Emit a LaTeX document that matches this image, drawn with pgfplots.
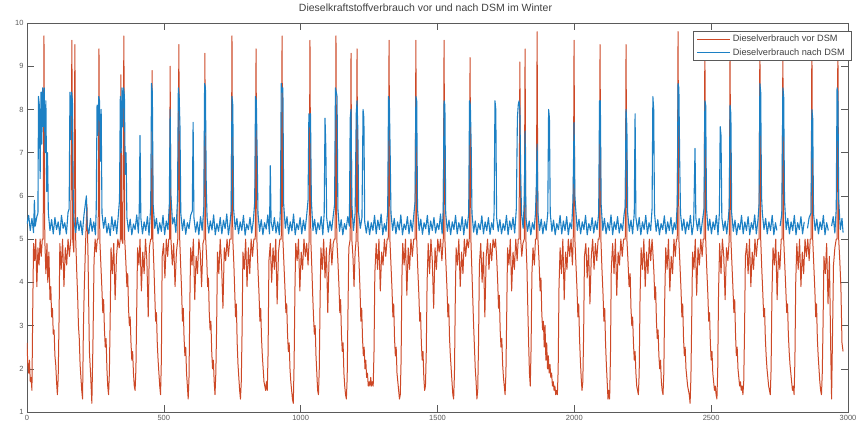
\documentclass[border=0pt]{standalone}
\usepackage{fontspec}
\setmainfont{Liberation Sans}
\usepackage{pgfplots}
\usepackage{pgfplotstable}
\pgfplotsset{compat=1.18}

\definecolor{vorcol}{RGB}{205,72,38}
\definecolor{nachcol}{RGB}{28,128,196}
\definecolor{axcol}{RGB}{90,90,90}

% Diesel consumption before DSM
\pgfplotstableread{
x y
0 2.6
3 2.1
6 1.9
9 2.2
12 1.7
15 1.8
18 1.5
21 3.4
24 4.9
28 4.5
32 5.0
36 3.9
40 4.8
44 4.4
48 5.0
52 4.6
56 5.0
59 5.0
62 9.7
65 5.0
69 4.2
73 4.9
76 4.0
80 4.7
84 3.6
87 3.9
90 3.2
93 3.4
96 2.8
99 2.9
102 2.3
105 2.1
108 1.7
111 1.4
114 1.8
117 3.1
120 4.9
125 4.3
130 5.0
135 3.9
140 4.8
145 4.4
150 5.0
155 4.6
160 5.0
164 9.6
167 5.0
171 4.7
175 9.5
178 5.0
182 4.2
185 3.7
188 3.0
191 2.7
194 2.1
197 1.8
200 1.5
203 1.3
206 2.9
209 3.8
214 4.9
219 5.8
223 4.6
228 2.4
233 1.8
237 1.2
241 2.6
245 4.5
249 5.0
253 4.7
257 5.0
260 5.0
263 9.4
266 5.0
270 4.4
274 3.8
277 3.3
280 3.6
283 2.9
286 2.5
289 2.7
292 2.0
295 1.6
298 1.4
301 1.9
304 3.2
307 4.8
312 4.2
317 4.9
322 3.6
327 4.6
332 5.0
337 4.8
341 5.0
343 8.8
346 5.0
350 4.9
354 9.7
357 5.0
361 4.5
365 3.9
368 4.2
371 3.4
374 3.0
377 3.2
380 2.6
383 2.2
386 2.4
389 1.9
392 1.6
395 1.5
398 2.0
401 3.4
404 4.8
409 4.4
413 5.0
418 3.8
423 4.7
428 4.2
433 5.0
438 4.5
443 3.2
447 4.8
452 5.0
455 5.0
457 8.9
460 5.0
464 4.3
467 3.7
470 3.1
473 3.3
476 2.6
479 2.2
482 1.9
485 1.6
488 1.4
491 2.2
494 4.6
499 4.9
504 4.1
509 5.0
514 4.6
518 5.0
521 5.0
523 9.0
526 5.0
531 4.4
536 4.9
541 3.9
546 4.7
551 5.0
555 9.5
558 5.0
562 4.3
565 3.8
568 3.1
571 3.4
574 2.7
577 2.3
580 2.5
583 1.9
586 1.6
589 1.3
592 1.8
595 3.5
598 4.8
603 4.4
608 5.0
613 3.6
618 4.6
623 4.2
628 5.0
633 4.7
638 3.9
643 4.9
647 5.0
650 9.3
653 5.0
657 4.5
660 3.9
663 4.1
666 3.3
669 2.9
672 3.1
675 2.4
678 2.0
681 2.2
684 1.7
687 1.4
690 1.9
693 3.0
696 4.7
701 4.2
706 5.0
711 4.4
716 3.4
721 4.8
726 4.5
731 5.0
736 4.6
741 5.0
746 5.0
749 9.7
752 5.0
756 4.4
759 3.8
762 3.2
765 3.5
768 2.6
771 2.1
774 1.8
777 1.5
780 1.3
783 1.7
786 2.9
789 4.7
794 4.3
799 5.0
804 3.9
809 4.8
814 4.2
819 5.0
824 4.6
829 5.0
834 5.0
837 9.4
840 5.0
844 4.3
848 3.7
851 3.1
854 3.4
857 2.7
860 2.3
863 2.0
866 1.7
869 1.6
872 1.5
875 1.7
878 1.5
881 2.4
884 4.5
889 4.9
894 4.0
899 4.8
904 4.3
909 5.0
914 3.5
919 4.7
924 5.0
929 5.0
932 9.7
935 5.0
939 4.4
943 3.8
946 3.3
949 3.5
952 2.8
955 2.4
958 2.6
961 2.0
964 1.7
967 1.5
970 1.3
973 1.2
976 2.1
979 3.8
982 4.9
987 4.5
992 5.0
997 3.8
1002 4.7
1007 4.3
1012 5.0
1017 4.6
1022 4.9
1027 4.4
1031 5.0
1034 9.6
1037 5.0
1041 4.3
1044 3.7
1047 3.2
1050 2.8
1053 3.0
1056 2.3
1059 1.9
1062 1.5
1065 1.4
1068 2.0
1071 3.6
1074 4.8
1079 4.3
1084 5.0
1089 4.1
1094 4.8
1099 3.3
1104 4.6
1109 5.0
1114 4.4
1119 4.9
1123 5.0
1126 5.0
1129 9.7
1132 5.0
1136 4.5
1140 3.9
1143 3.3
1146 3.6
1149 2.8
1152 2.4
1155 2.6
1158 1.9
1161 1.6
1164 1.4
1167 1.3
1170 1.8
1173 3.4
1176 4.8
1181 5.0
1184 9.3
1187 5.0
1191 4.6
1195 3.9
1199 4.7
1203 5.0
1206 9.4
1209 5.0
1213 4.5
1217 3.8
1220 3.1
1223 3.4
1226 2.7
1229 2.3
1232 2.5
1235 2.0
1238 2.2
1241 1.8
1244 1.9
1247 1.6
1250 1.7
1253 1.6
1256 1.8
1259 1.6
1262 1.7
1265 1.6
1268 2.4
1271 4.2
1276 4.9
1281 4.3
1286 5.0
1291 3.8
1296 4.7
1301 4.4
1306 5.0
1311 4.6
1316 5.0
1320 5.0
1323 9.6
1326 5.0
1330 4.4
1334 3.8
1337 3.2
1340 3.5
1343 2.7
1346 2.3
1349 2.5
1352 1.9
1355 1.7
1358 1.5
1361 1.3
1364 1.4
1367 2.2
1370 4.1
1373 4.9
1378 4.4
1383 5.0
1388 3.7
1393 4.8
1398 4.3
1403 5.0
1408 4.6
1413 5.0
1418 5.0
1421 9.6
1424 5.0
1428 4.3
1432 3.7
1435 3.1
1438 3.3
1441 2.6
1444 2.2
1447 2.4
1450 1.8
1453 1.5
1456 1.6
1459 2.4
1462 4.0
1466 4.9
1471 4.2
1476 5.0
1481 4.5
1486 3.4
1491 4.8
1496 4.3
1501 5.0
1506 4.7
1511 5.0
1516 4.5
1521 5.0
1524 9.6
1527 5.0
1531 4.4
1535 3.8
1538 3.2
1541 3.5
1544 2.7
1547 2.3
1550 2.0
1553 1.7
1556 1.4
1559 1.3
1562 1.9
1565 3.6
1568 4.8
1573 4.4
1578 5.0
1583 3.9
1588 4.7
1593 4.2
1598 5.0
1603 4.6
1608 5.0
1613 4.8
1616 5.0
1619 9.2
1622 5.0
1626 4.2
1629 3.6
1632 3.0
1635 2.5
1638 2.0
1641 1.7
1644 1.3
1647 1.5
1650 2.6
1653 4.4
1658 4.9
1663 4.0
1668 4.7
1673 3.2
1678 4.6
1683 5.0
1688 4.3
1693 4.9
1698 4.5
1703 5.0
1708 4.8
1712 5.0
1716 4.6
1720 4.0
1723 3.4
1726 3.7
1729 2.9
1732 2.5
1735 2.7
1738 2.1
1741 1.8
1744 1.6
1747 1.4
1750 1.9
1753 3.3
1756 4.8
1761 4.4
1766 5.0
1771 3.8
1776 4.7
1781 4.3
1786 5.0
1791 4.5
1795 5.0
1798 5.0
1801 9.1
1804 5.0
1808 4.6
1812 4.9
1817 5.0
1820 9.4
1823 5.0
1827 4.3
1830 3.4
1833 2.6
1836 1.9
1839 1.6
1842 2.5
1845 4.2
1849 4.8
1854 4.4
1858 5.0
1861 5.0
1864 9.8
1867 5.0
1871 4.5
1875 3.8
1878 4.1
1881 3.3
1884 2.9
1887 3.1
1890 2.5
1893 3.0
1896 2.2
1899 2.6
1902 2.0
1905 2.3
1908 1.9
1911 2.1
1914 1.8
1917 1.9
1920 1.6
1923 1.7
1926 1.5
1929 1.6
1932 1.4
1935 1.5
1938 1.4
1941 2.0
1944 3.9
1948 4.8
1953 4.2
1958 5.0
1963 3.6
1968 4.7
1973 4.3
1978 5.0
1983 4.6
1988 5.0
1993 4.4
1996 5.0
1999 9.6
2002 5.0
2006 4.4
2010 3.8
2013 3.2
2016 3.5
2019 2.7
2022 2.2
2025 1.8
2028 1.5
2031 1.7
2034 2.8
2037 4.6
2042 4.9
2047 4.1
2052 4.8
2057 3.5
2062 4.6
2067 5.0
2072 4.3
2077 4.9
2082 4.5
2087 5.0
2091 5.0
2094 9.5
2097 5.0
2101 4.3
2105 3.7
2108 3.1
2111 3.4
2114 2.6
2117 2.1
2120 1.7
2123 1.3
2126 1.5
2129 1.3
2132 2.3
2135 4.3
2140 4.9
2145 4.2
2150 5.0
2155 3.7
2160 4.7
2165 4.4
2170 5.0
2175 4.6
2180 5.0
2186 5.0
2189 9.5
2192 5.0
2196 4.5
2200 3.9
2204 4.2
2207 3.4
2210 3.0
2213 3.2
2216 2.6
2219 2.2
2222 2.4
2225 1.9
2228 1.6
2231 1.5
2234 1.4
2237 1.9
2240 3.6
2244 4.8
2249 4.3
2254 5.0
2259 3.9
2264 4.7
2269 4.2
2274 5.0
2279 4.5
2284 5.0
2287 4.7
2291 4.2
2294 3.6
2297 3.9
2300 3.1
2303 2.7
2306 2.9
2309 2.3
2312 2.0
2315 2.2
2318 1.7
2321 1.5
2324 1.4
2327 1.9
2330 3.5
2334 4.8
2339 4.3
2344 5.0
2349 3.8
2354 4.6
2359 4.2
2364 5.0
2369 4.6
2373 5.0
2376 5.0
2379 9.8
2382 5.0
2386 4.4
2390 3.8
2393 3.2
2396 3.5
2399 2.7
2402 2.3
2405 2.5
2408 2.0
2411 1.8
2414 1.6
2417 1.5
2420 1.4
2423 1.2
2426 1.8
2429 3.2
2432 4.7
2437 4.3
2442 5.0
2447 3.7
2452 4.8
2457 4.4
2462 5.0
2467 4.6
2471 5.0
2474 5.0
2477 9.6
2480 5.0
2484 4.3
2488 3.7
2491 3.1
2494 3.3
2497 2.6
2500 2.2
2503 2.4
2506 1.9
2509 1.7
2512 1.5
2515 1.6
2518 1.4
2521 1.3
2524 2.0
2527 3.8
2531 4.9
2536 4.2
2541 5.0
2546 4.6
2551 3.6
2556 4.8
2561 4.5
2566 5.0
2569 9.4
2572 5.0
2576 4.4
2580 3.8
2583 3.3
2586 3.6
2589 2.8
2592 2.3
2595 2.5
2598 2.0
2601 1.8
2604 1.6
2607 1.7
2610 1.5
2613 1.6
2616 1.4
2619 1.7
2622 2.9
2625 4.6
2630 4.9
2635 4.2
2640 5.0
2645 3.9
2650 4.7
2655 4.3
2660 5.0
2665 4.6
2670 5.0
2675 5.0
2678 9.7
2681 5.0
2685 4.3
2689 3.7
2692 3.2
2695 3.4
2698 2.7
2701 2.3
2704 2.0
2707 1.8
2710 1.6
2713 1.5
2716 1.4
2719 2.0
2722 3.7
2726 4.8
2731 4.4
2736 5.0
2741 3.6
2746 4.7
2751 4.3
2756 5.0
2759 5.0
2762 9.4
2765 5.0
2769 4.4
2773 3.8
2776 3.3
2779 3.5
2782 2.8
2785 2.4
2788 2.1
2791 1.9
2794 1.7
2797 1.5
2800 1.6
2803 1.4
2806 2.2
2809 4.0
2813 4.9
2818 4.3
2823 5.0
2828 3.9
2833 4.7
2838 4.2
2843 5.0
2848 4.6
2853 5.0
2858 4.5
2862 5.0
2865 5.0
2868 9.7
2871 5.0
2875 4.4
2879 3.8
2882 3.2
2885 3.5
2888 2.7
2891 2.3
2894 2.0
2897 1.7
2900 1.5
2903 1.4
2906 1.9
2909 3.1
2912 4.6
2917 4.2
2922 4.9
2927 3.5
2932 4.6
2937 2.4
2940 1.3
2943 2.6
2947 4.4
2952 4.8
2957 5.0
2960 5.0
2963 9.7
2966 5.0
2970 4.5
2974 3.9
2978 2.6
2982 2.4
}\redtab

% Diesel consumption after DSM
\pgfplotstableread{
x y
0 5.35
6 5.55
12 5.20
18 5.48
24 5.15
27 5.90
30 5.30
36 5.52
40 5.60
42 8.3
45 8.1
48 6.4
51 8.4
54 7.2
57 8.5
60 7.6
63 8.5
66 7.0
69 8.2
72 6.1
75 7.0
78 5.6
84 5.20
90 5.45
96 5.12
102 5.50
108 5.22
114 5.40
120 5.10
126 5.55
132 5.25
138 5.38
144 5.12
150 5.62
154 5.70
157 8.4
160 7.3
163 8.4
166 8.2
169 6.0
172 5.4
178 5.15
184 5.50
190 5.20
196 5.42
202 5.10
208 5.55
214 5.85
217 6.0
220 5.30
226 5.12
232 5.48
238 5.18
244 5.40
250 5.10
253 5.70
256 8.1
259 7.4
262 8.3
265 8.2
268 6.8
271 8.0
274 5.6
280 5.25
286 5.50
292 5.14
298 5.36
304 5.08
310 5.52
316 5.20
322 5.44
328 5.12
334 5.58
338 5.90
341 8.3
344 7.0
347 8.5
350 7.6
353 8.5
356 8.3
359 6.5
362 7.0
365 5.5
371 5.18
377 5.46
383 5.10
389 5.35
395 5.22
401 5.56
407 5.14
410 5.60
413 7.4
416 5.5
422 5.12
428 5.40
434 5.20
440 5.52
446 5.09
452 5.75
455 8.6
458 8.4
461 5.8
467 5.25
473 5.48
479 5.12
485 5.38
491 5.18
497 5.55
503 5.10
509 5.42
515 5.22
520 5.80
523 8.0
526 6.0
532 5.35
538 5.50
544 5.15
550 5.90
553 8.5
556 8.3
559 7.6
562 5.6
568 5.20
574 5.46
580 5.11
586 5.38
592 5.24
598 5.55
604 5.65
607 7.7
610 5.5
616 5.16
622 5.40
628 5.10
634 5.52
640 5.20
646 5.70
649 8.6
652 8.5
655 6.2
658 5.5
664 5.14
670 5.42
676 5.21
682 5.56
688 5.10
694 5.36
700 5.18
706 5.50
712 5.12
718 5.44
724 5.24
730 5.58
736 5.10
742 5.38
746 5.65
749 8.3
752 8.1
755 5.7
761 5.22
767 5.48
773 5.12
779 5.40
785 5.20
791 5.55
797 5.09
803 5.35
809 5.22
815 5.50
821 5.14
827 5.42
832 5.85
835 8.3
838 8.2
841 7.0
844 5.6
850 5.18
856 5.45
862 5.10
868 5.38
874 5.23
880 5.56
886 5.12
889 6.7
892 5.4
898 5.20
904 5.50
910 5.14
916 5.40
922 5.10
926 5.70
929 8.6
932 8.4
935 8.5
938 5.8
944 5.25
950 5.52
956 5.12
962 5.40
968 5.19
974 5.58
980 5.10
986 5.36
992 5.22
998 5.50
1004 5.12
1010 5.44
1016 5.20
1022 5.55
1027 5.90
1030 7.9
1033 7.6
1036 7.9
1039 5.9
1045 5.20
1051 5.46
1057 5.12
1063 5.38
1069 5.22
1075 5.52
1081 5.10
1086 5.60
1089 7.8
1092 7.1
1095 5.5
1101 5.16
1107 5.42
1113 5.20
1119 5.54
1124 5.80
1127 8.5
1130 8.4
1133 8.3
1136 5.7
1142 5.18
1148 5.45
1154 5.10
1160 5.36
1166 5.22
1172 5.52
1178 5.30
1181 7.8
1184 8.0
1187 5.8
1193 5.20
1199 5.60
1203 7.9
1206 8.2
1209 7.5
1212 5.6
1218 5.25
1224 5.50
1228 8.0
1231 7.8
1234 5.4
1240 5.14
1246 5.42
1252 5.10
1258 5.38
1264 5.20
1270 5.55
1276 5.12
1282 5.44
1288 5.22
1294 5.58
1300 5.10
1306 5.36
1312 5.18
1318 5.65
1321 8.3
1324 8.2
1327 7.0
1330 5.6
1336 5.20
1342 5.48
1348 5.12
1354 5.40
1360 5.21
1366 5.56
1372 5.10
1378 5.35
1384 5.22
1390 5.52
1396 5.12
1402 5.44
1408 5.18
1414 5.60
1418 5.85
1421 8.3
1424 8.2
1427 5.7
1433 5.20
1439 5.46
1445 5.11
1451 5.38
1457 5.24
1463 5.55
1469 5.10
1475 5.42
1481 5.20
1487 5.50
1493 5.14
1499 5.36
1505 5.22
1511 5.58
1517 5.12
1521 5.70
1524 8.2
1527 8.1
1530 5.6
1536 5.18
1542 5.44
1548 5.10
1554 5.40
1560 5.22
1566 5.55
1572 5.12
1578 5.38
1584 5.20
1590 5.52
1596 5.10
1602 5.45
1608 5.24
1614 5.60
1617 8.2
1620 8.1
1623 7.2
1626 5.6
1632 5.16
1638 5.42
1644 5.10
1650 5.36
1656 5.22
1662 5.54
1668 5.12
1674 5.40
1680 5.20
1686 5.50
1692 5.11
1698 5.38
1704 5.22
1707 5.65
1710 8.2
1713 8.0
1716 5.5
1722 5.18
1728 5.45
1734 5.12
1740 5.36
1746 5.20
1752 5.55
1758 5.10
1764 5.42
1770 5.22
1776 5.50
1782 5.14
1788 5.70
1792 7.8
1795 8.1
1798 8.2
1801 8.0
1804 6.5
1807 5.6
1813 5.25
1817 5.90
1820 7.5
1823 5.5
1829 5.18
1835 5.42
1841 5.10
1847 5.38
1853 5.22
1858 5.60
1861 6.2
1864 7.2
1867 5.6
1873 5.20
1879 5.46
1885 5.12
1891 5.40
1897 5.20
1903 5.60
1906 8.0
1909 7.8
1912 5.6
1918 5.18
1924 5.44
1930 5.10
1936 5.36
1942 5.22
1948 5.55
1954 5.12
1960 5.42
1966 5.20
1972 5.52
1978 5.10
1984 5.38
1990 5.24
1995 5.90
1999 7.7
2002 6.0
2005 5.7
2011 5.20
2017 5.46
2023 5.12
2029 5.40
2035 5.22
2041 5.55
2047 5.10
2053 5.36
2059 5.20
2065 5.50
2071 5.14
2077 5.42
2083 5.22
2089 5.60
2092 8.2
2095 8.2
2098 5.8
2104 5.20
2110 5.48
2116 5.12
2122 5.38
2128 5.20
2134 5.56
2140 5.10
2146 5.40
2152 5.22
2158 5.52
2164 5.14
2170 5.36
2176 5.20
2182 5.58
2186 5.75
2189 8.0
2192 7.6
2195 5.6
2201 5.18
2207 5.44
2213 5.12
2219 5.60
2222 7.9
2225 5.5
2231 5.20
2237 5.50
2243 5.10
2249 5.40
2255 5.22
2261 5.55
2267 5.12
2273 5.38
2279 5.20
2284 5.70
2287 8.3
2290 8.0
2293 5.6
2299 5.18
2305 5.45
2311 5.10
2317 5.36
2323 5.22
2329 5.54
2335 5.12
2341 5.40
2347 5.20
2353 5.50
2359 5.12
2365 5.38
2371 5.22
2376 5.80
2379 8.6
2382 8.5
2385 6.8
2388 5.6
2394 5.20
2400 5.46
2406 5.12
2412 5.40
2418 5.22
2424 5.55
2430 5.10
2436 5.36
2441 7.1
2444 5.5
2450 5.20
2456 5.48
2462 5.12
2468 5.42
2474 5.70
2477 8.2
2480 8.1
2483 5.7
2489 5.20
2495 5.46
2501 5.12
2507 5.40
2513 5.22
2519 5.55
2525 5.10
2530 5.60
2533 7.6
2536 7.4
2539 5.5
2545 5.20
2551 5.42
2557 5.12
2563 5.50
2566 5.75
2569 8.1
2572 7.9
2575 5.6
2581 5.18
2587 5.44
2593 5.10
2599 5.36
2605 5.22
2611 5.55
2617 5.12
2623 5.40
2629 5.20
2635 5.52
2641 5.10
2647 5.38
2653 5.22
2659 5.56
2665 5.12
2671 5.44
2675 5.80
2678 8.6
2681 8.4
2684 6.0
2687 5.6
2693 5.22
2699 5.48
2705 5.12
2711 5.40
2717 5.20
2723 5.55
2729 5.10
2735 5.38
2740 5.20
2743 nan
2752 5.30
2758 5.58
2762 8.5
2765 8.3
2768 5.9
2774 5.22
2780 5.48
2786 5.12
2792 5.40
2798 5.20
2804 5.55
2810 5.10
2816 5.38
2822 5.22
2828 5.52
2834 5.12
2840 5.40
2843 nan
2852 5.25
2858 5.50
2865 5.60
2868 8.0
2871 7.8
2874 5.6
2880 5.20
2886 5.46
2892 5.12
2898 5.40
2904 5.22
2910 5.55
2916 5.10
2922 5.38
2928 5.20
2933 nan
2940 5.30
2946 5.52
2952 5.14
2957 5.70
2960 8.5
2963 8.4
2966 5.9
2972 5.22
2978 5.48
2982 5.15
}\bluetab

\begin{document}
\begin{tikzpicture}
\begin{axis}[
    at={(0,0)}, anchor=south west,
    scale only axis,
    width=821pt, height=389pt,
    xmin=0, xmax=3000, ymin=1, ymax=10,
    xtick={0,500,...,3000},
    ytick={1,2,...,10},
    tick pos=both,
    tick align=inside,
    major tick length=7pt,
    axis line style={axcol},
    every tick/.style={axcol, line width=0.5pt},
    tick label style={font=\fontsize{7.5}{8}\selectfont, text=axcol},
    /pgf/number format/1000 sep={},
    /pgf/number format/assume math mode=true,
    unbounded coords=jump,
    title={Dieselkraftstoffverbrauch vor und nach DSM im Winter},
    title style={at={(0.5,1)}, anchor=south, xshift=-12pt, yshift=2pt,
        font=\fontsize{10.5}{11}\selectfont, text=black!75},
    legend style={at={(1,1)}, anchor=north east, xshift=3pt, yshift=-8pt,
        font=\fontsize{9.2}{10}\selectfont, draw=axcol, inner xsep=4pt, inner ysep=2pt,
        row sep=1pt, text=black!75},
    legend cell align=left,
    legend image code/.code={\draw[#1, line width=0.8pt] (0pt,0pt) -- (33pt,0pt);},
]
\addplot[color=vorcol, line width=1.0pt, line join=round] table[x=x, y=y] {\redtab};
\addlegendentry{Dieselverbrauch vor DSM}
\addplot[color=nachcol, line width=1.1pt, line join=round] table[x=x, y=y] {\bluetab};
\addlegendentry{Dieselverbrauch nach DSM}
\end{axis}
\pgfresetboundingbox
\path[use as bounding box] (-27pt,-14pt) rectangle (833pt,412pt);
\end{tikzpicture}
\end{document}
